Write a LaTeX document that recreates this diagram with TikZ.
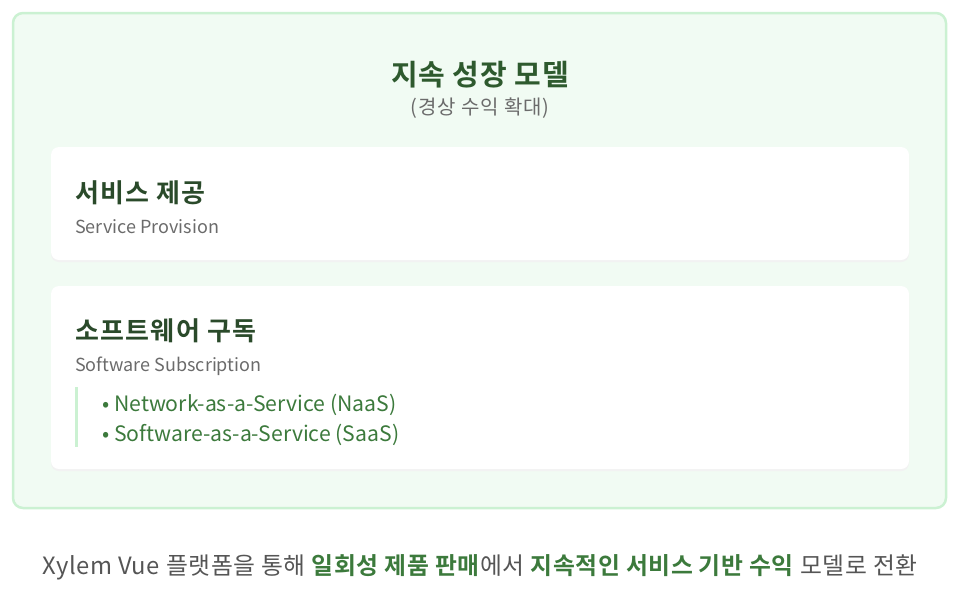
\documentclass[tikz,border=0pt]{standalone}
\usepackage{fontspec}
\setmainfont{Noto Sans CJK KR}[BoldFont={Noto Sans CJK KR Bold}]
\usepackage{xcolor}
\usetikzlibrary{positioning}

\definecolor{panelfill}{HTML}{F1FBF3}
\definecolor{panelline}{HTML}{CBF1D2}
\definecolor{darkgreen}{HTML}{2E5A2E}
\definecolor{headgreen}{HTML}{2A4A2A}
\definecolor{itemgreen}{HTML}{3C7A3C}
\definecolor{softgray}{HTML}{6B6B6B}
\definecolor{footgray}{HTML}{555555}

\newcommand{\fsz}[1]{\fontsize{#1}{#1}\selectfont}

\begin{document}
\begin{tikzpicture}[x=1pt,y=-1pt]
            % Define styles for the boxes and texts
            \tikzstyle{panel} = [draw=panelline, line width=2.5pt, fill=panelfill, rounded corners=10pt]
            \tikzstyle{card} = [fill=white, rounded corners=8pt]
            \tikzstyle{cardshadow} = [fill=black!5, rounded corners=8pt]
            \tikzstyle{title} = [inner sep=0pt, anchor=base, text=darkgreen, font=\fsz{29}\bfseries\addfontfeature{LetterSpace=3}]
            \tikzstyle{subtitle} = [inner sep=0pt, anchor=base, text=softgray, font=\fsz{20}\addfontfeature{LetterSpace=4}]
            \tikzstyle{heading} = [inner sep=0pt, anchor=base west, text=headgreen, font=\fsz{26}\bfseries\addfontfeature{LetterSpace=5}]
            \tikzstyle{caption} = [inner sep=0pt, anchor=base west, text=softgray, font=\fsz{18}]
            \tikzstyle{item} = [inner sep=0pt, anchor=base west, text=itemgreen, font=\fsz{21.2}]

            \useasboundingbox (0,0) rectangle (953,597);

            % Outer panel
            \draw [panel] (13,13) rectangle (946,508);

            % Title
            \node [title] (head) at (480,85) {지속 성장 모델};
            \node [subtitle] (headsub) at (480,114) {(경상 수익 확대)};

            % Cards
            \fill [cardshadow] (51,148) rectangle (909,262);
            \fill [card] (51,147) rectangle (909,260);
            \fill [cardshadow] (51,287) rectangle (909,471);
            \fill [card] (51,286) rectangle (909,469);

            % Service card
            \node [heading] (service) at (75,202) {서비스 제공};
            \node [caption] (serviceen) at (75,233) {Service Provision};

            % Subscription card
            \node [heading] (subscr) at (75,340) {소프트웨어 구독};
            \node [caption] (subscren) at (75,371) {Software Subscription};
            \fill [panelline] (75,387) rectangle (78,447);
            \node [item] (naas) at (102,411) {• Network-as-a-Service (NaaS)};
            \node [item] (saas) at (102,441) {• Software-as-a-Service (SaaS)};

            % Summary line below the panel
            \node [inner sep=0pt, anchor=base, text=footgray, font=\fsz{23.8}\addfontfeature{LetterSpace=2.6}] (summary) at (480,574)
                {Xylem Vue 플랫폼을 통해 \textcolor{itemgreen}{\textbf{일회성 제품 판매}}에서 \textcolor{itemgreen}{\textbf{지속적인 서비스 기반 수익}} 모델로 전환};
        \end{tikzpicture}
\end{document}
